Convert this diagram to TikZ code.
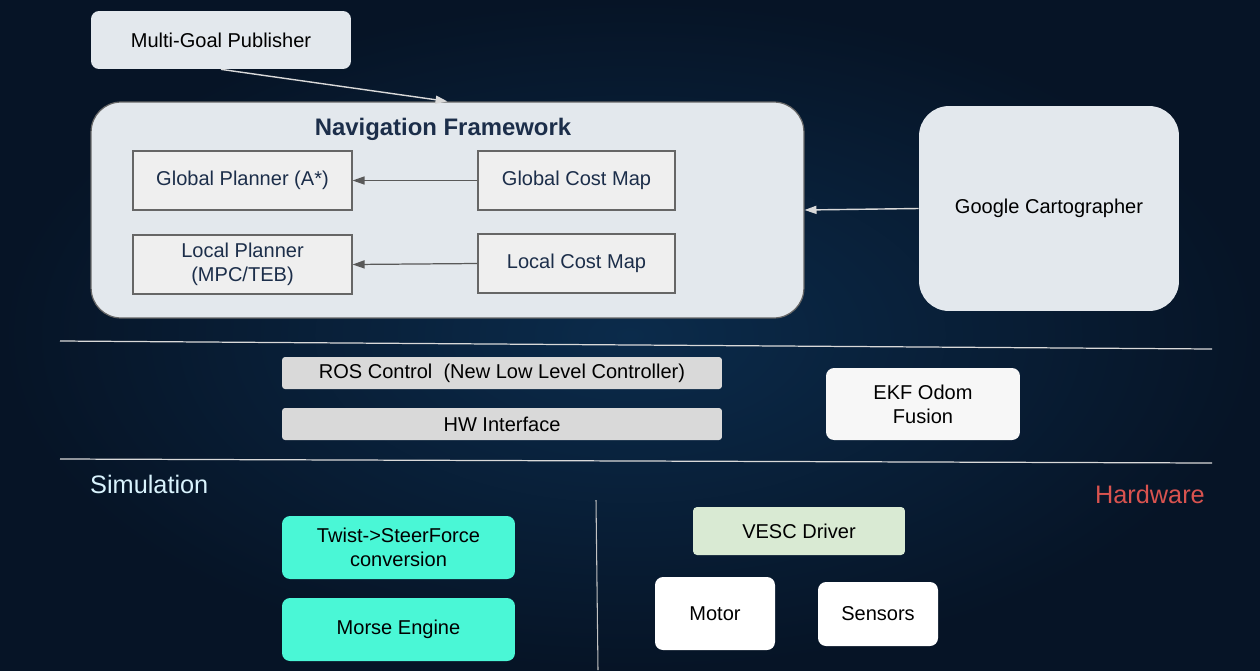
\documentclass[tikz,border=0pt]{standalone}
\usepackage{fontspec}
\setmainfont{Liberation Sans}
\usepackage{xcolor}
\usetikzlibrary{arrows.meta}

\definecolor{bgin}{HTML}{0B2B4B}
\definecolor{bgout}{HTML}{061426}
\definecolor{panel}{HTML}{E3E8ED}
\definecolor{inner}{HTML}{EFEFEF}
\definecolor{navtext}{HTML}{1C2E4A}
\definecolor{ctrl}{HTML}{D9D9D9}
\definecolor{turq}{HTML}{4AF7D6}
\definecolor{vescgreen}{HTML}{D9EAD3}
\definecolor{hwred}{HTML}{D9534F}

\tikzset{
  box/.style={font=\fontsize{11.4}{13.7}\selectfont, text=black, align=center, inner sep=0pt},
  panelbox/.style={box, fill=panel, rounded corners=0.6cm},
  navbox/.style={box, fill=inner, draw=black!60, line width=0.7pt, text=navtext},
  darkarrow/.style={-{Triangle[length=6.8pt,width=4.6pt]}, draw=black!65, line width=0.7pt},
  lightarrow/.style={-{Triangle[length=6.8pt,width=4.6pt]}, draw=white!85!black, line width=0.8pt},
  sepline/.style={draw=white!85!black, line width=0.7pt}
}

\begin{document}
\begin{tikzpicture}[x=0.02cm, y=-0.02cm]
  % background
  \shade[inner color=bgin, outer color=bgout] (0,0) rectangle (1260,670);
  \useasboundingbox (0,0) rectangle (1260,670);

  % top part
  \node[box, fill=panel, rounded corners=0.16cm, minimum width=5.2cm, minimum height=1.16cm] (pub) at (221,40) {Multi-Goal Publisher};
  \node[panelbox, draw=black!60, line width=0.7pt, minimum width=14.26cm, minimum height=4.32cm] (nav) at (447.5,210) {};
  \node[font=\fontsize{13.6}{16}\selectfont\bfseries, text=navtext] (navtitle) at (443,129) {Navigation Framework};
  \node[navbox, minimum width=4.38cm, minimum height=1.18cm] (gplan) at (242.5,180.5) {Global Planner (A*)};
  \node[navbox, minimum width=3.94cm, minimum height=1.18cm] (gcost) at (576.5,180.5) {Global Cost Map};
  \node[navbox, minimum width=4.38cm, minimum height=1.18cm] (lplan) at (242.5,264.5) {Local Planner\\(MPC/TEB)};
  \node[navbox, minimum width=3.94cm, minimum height=1.18cm] (lcost) at (576.5,263.5) {Local Cost Map};
  \node[panelbox, minimum width=5.2cm, minimum height=4.1cm] (carto) at (1049,208.5) {Google Cartographer};

  \draw[lightarrow] (pub.south) -- (nav.north);
  \draw[darkarrow] (gcost.west) -- (gplan.east);
  \draw[darkarrow] (lcost.west) -- (lplan.east);
  \draw[lightarrow] (carto.west) -- (nav.east);

  % control layer
  \draw[sepline] (60,341) -- (1212,349);
  \node[box, fill=ctrl, rounded corners=0.06cm, minimum width=8.8cm, minimum height=0.64cm] (rosctl) at (502,373) {ROS Control\ \ (New Low Level Controller)};
  \node[box, fill=ctrl, rounded corners=0.06cm, minimum width=8.8cm, minimum height=0.64cm] (hwif) at (502,424) {HW Interface};
  \node[box, fill=white!97!black, rounded corners=0.16cm, minimum width=3.88cm, minimum height=1.44cm] (ekf) at (923,404) {EKF Odom\\Fusion};
  \draw[sepline] (60,459) -- (1212,463);

  % simulation / hardware
  \node[anchor=west, font=\fontsize{14.4}{17}\selectfont, text=white!85!cyan] (simlabel) at (84,484) {Simulation};
  \node[anchor=east, font=\fontsize{14.4}{17}\selectfont, text=hwred] (hwlabel) at (1211,494) {Hardware};
  \draw[draw=black!60!white!40, line width=0.6pt] (596,500) -- (598,670);

  \node[box, fill=turq, rounded corners=0.16cm, minimum width=4.66cm, minimum height=1.26cm] (twist) at (398.5,547.5) {Twist->SteerForce\\conversion};
  \node[box, fill=turq, rounded corners=0.16cm, minimum width=4.66cm, minimum height=1.26cm] (morse) at (398.5,629.5) {Morse Engine};
  \node[box, fill=vescgreen, rounded corners=0.08cm, minimum width=4.24cm, minimum height=0.96cm] (vesc) at (799,531) {VESC Driver};
  \node[box, fill=white, rounded corners=0.16cm, minimum width=2.4cm, minimum height=1.46cm] (motor) at (715,613.5) {Motor};
  \node[box, fill=white, rounded corners=0.16cm, minimum width=2.4cm, minimum height=1.28cm] (sensors) at (878,614) {Sensors};
\end{tikzpicture}
\end{document}
